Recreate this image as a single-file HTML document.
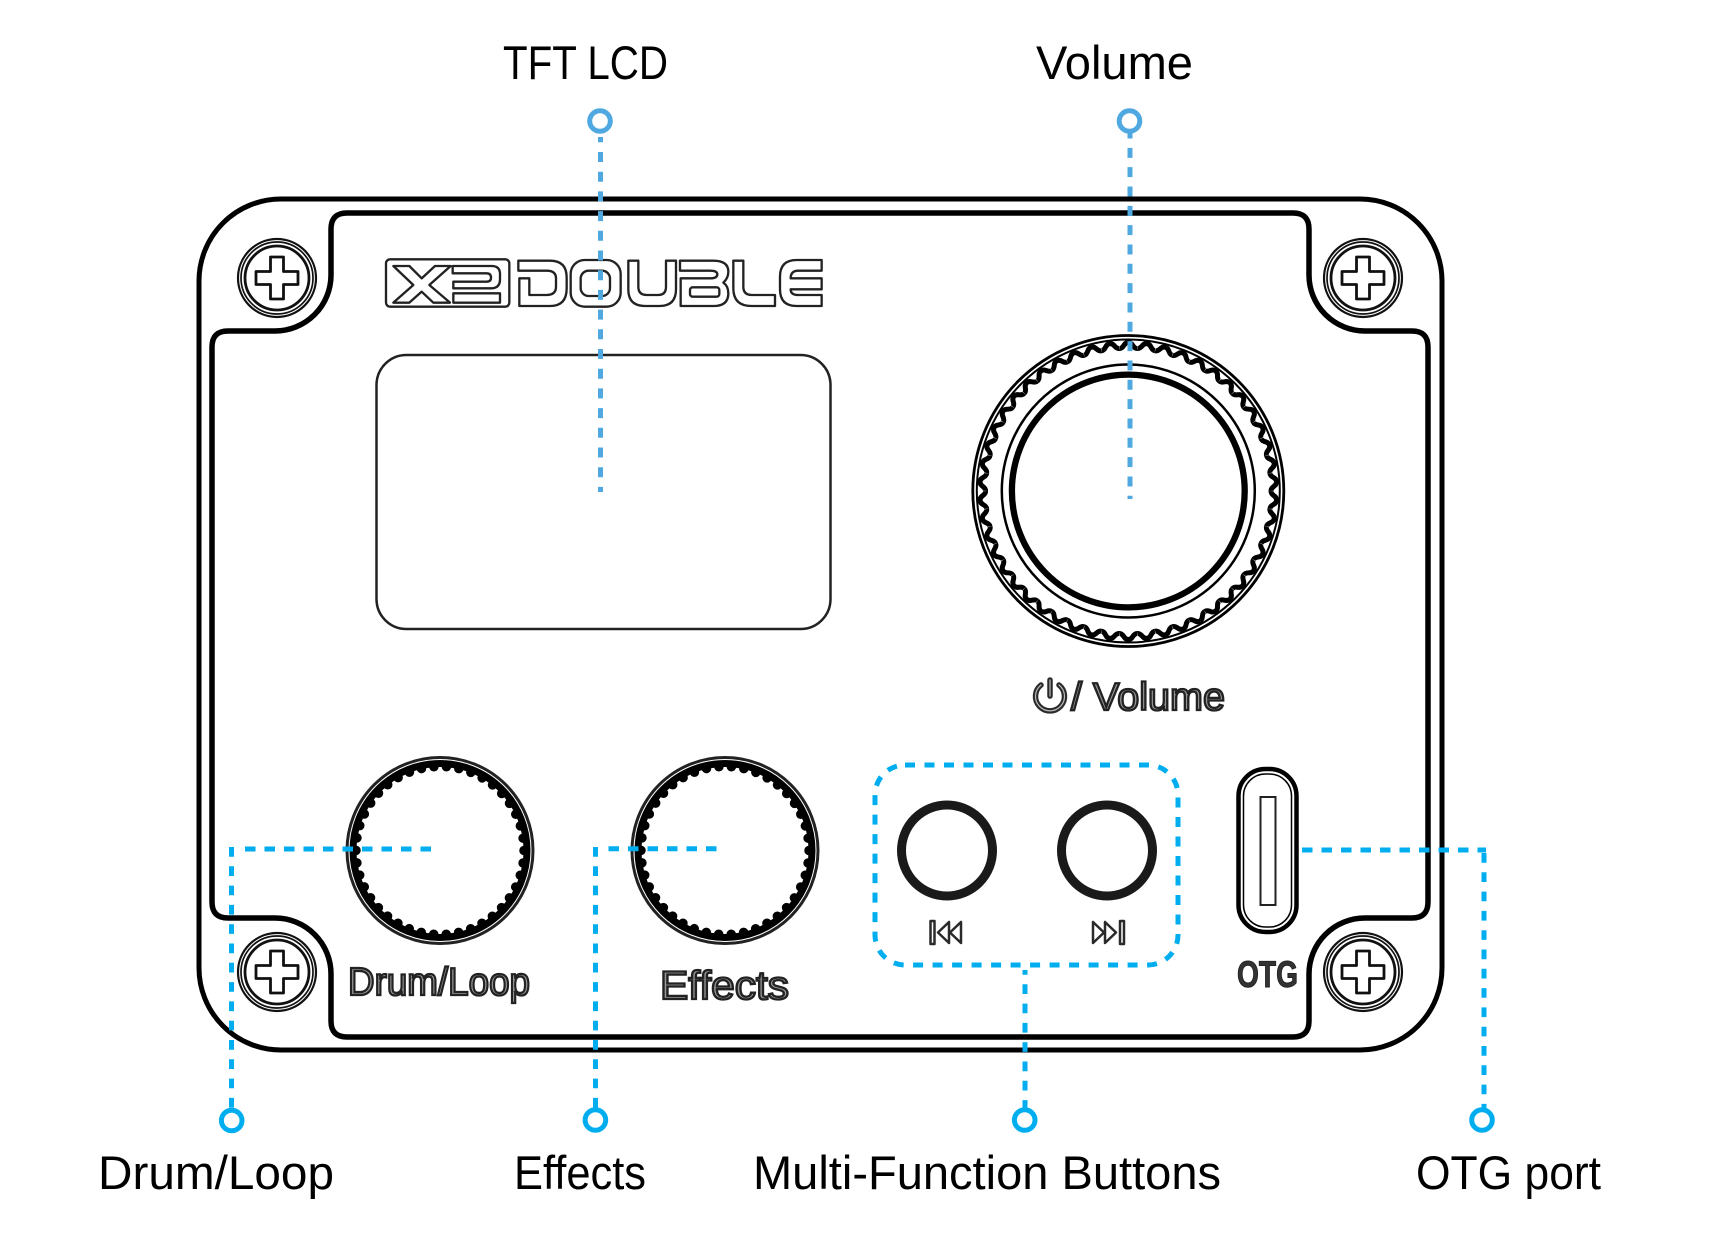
<!DOCTYPE html>
<html>
<head>
<meta charset="utf-8">
<style>
html,body{margin:0;padding:0;background:#fff}
svg{display:block}
.lab{font-family:"Liberation Sans",sans-serif;font-size:47px;fill:#000}
.ol{font-family:"Liberation Sans",sans-serif;fill:#999;stroke:#222;stroke-width:2.300px}
</style>
</head>
<body>
<svg xmlns="http://www.w3.org/2000/svg" width="1710" height="1244" viewBox="0 0 1710 1244">
<defs>
<g id="screw" fill="none" stroke="#111">
<circle r="39" stroke-width="2.200"/>
<circle r="36" stroke-width="1.700"/>
<circle r="32" stroke-width="2.800"/>
<path d="M-6.500 -21H6.500V-6.500H21V6.500H6.500V21H-6.500V6.500H-21V-6.500H-6.500Z" stroke-width="2.800" stroke-linejoin="round"/>
</g>
<path id="t" d="M-8.850 -142.500C-4.200 -142.500 -5 -148.500 0 -148.500C5 -148.500 4.200 -142.500 8.850 -142.500"/>
<g id="t5">
<use href="#t"/><use href="#t" transform="rotate(7.2)"/><use href="#t" transform="rotate(14.4)"/><use href="#t" transform="rotate(21.6)"/><use href="#t" transform="rotate(28.8)"/>
</g>
<g id="small" fill="none">
<circle r="93" stroke="#222" stroke-width="3"/>
<circle r="87" stroke="#000" stroke-width="7"/>
<circle r="84" stroke="#000" stroke-width="9.500" stroke-linecap="round" stroke-dasharray="0 12.566"/>
</g>
</defs>

<!-- enclosure -->
<rect x="199" y="199" width="1243" height="851" rx="82" fill="none" stroke="#000" stroke-width="5"/>
<path d="M347 213H1293Q1309 213 1309 229V275A56 56 0 0 0 1365 331H1412Q1428 331 1428 347V902Q1428 918 1412 918H1365A56 56 0 0 0 1309 974V1021Q1309 1037 1293 1037H347Q331 1037 331 1021V974A56 56 0 0 0 275 918H228Q212 918 212 902V347Q212 331 228 331H275A56 56 0 0 0 331 275V229Q331 213 347 213Z" fill="none" stroke="#000" stroke-width="5.500"/>

<use href="#screw" x="277" y="278"/>
<use href="#screw" x="1363" y="278"/>
<use href="#screw" x="277" y="972"/>
<use href="#screw" x="1363" y="972"/>

<!-- logo -->
<g transform="translate(380 250) scale(.33333)" fill="none" stroke="#222" stroke-width="7" stroke-linejoin="round">
<rect x="18" y="28" width="370" height="142" rx="12"/>
<path d="M40 48H88L125 85L165 48H212L148 105L210 158H160L125 125L88 158H40L100 105Z"/>
<path d="M218 48H335Q360 48 360 72V88Q360 115 332 115H220V95H320Q333 95 333 83Q333 70 320 70H218Z"/>
<rect x="220" y="130" width="140" height="28"/>
<path d="M415 32H510Q560 32 560 82V115Q560 168 510 168H418V85H448V135H500Q528 135 528 110V85Q528 62 500 62H415Z"/>
<rect x="572" y="30" width="150" height="140" rx="42"/>
<rect x="602" y="62" width="88" height="76" rx="24"/>
<path d="M745 32H775V110Q775 135 800 135H835Q858 135 858 110V32H888V118Q888 168 838 168H795Q745 168 745 118Z"/>
<path d="M900 32H1000Q1045 32 1045 65Q1045 85 1030 98Q1045 108 1045 130Q1045 168 1000 168H902V85H990Q1012 85 1012 73Q1012 62 990 62H900Z"/>
<rect x="930" y="112" width="88" height="28" rx="8"/>
<path d="M1060 32H1090V110Q1090 135 1115 135H1185V168H1115Q1060 168 1060 115Z"/>
<path d="M1325 30H1250Q1200 30 1200 80V118Q1200 168 1250 168H1325V135H1255Q1232 135 1232 118H1325V85H1232Q1232 62 1255 62H1325Z"/>
</g>

<!-- LCD -->
<rect x="376.500" y="355" width="454" height="274" rx="30" fill="none" stroke="#222" stroke-width="2.500"/>

<!-- volume knob -->
<g transform="translate(1128.300 491)" fill="none" stroke="#000">
<circle r="155.500" stroke-width="2.800"/>
<circle r="151.500" stroke-width="2"/>
<g stroke-width="5">
<use href="#t5"/><use href="#t5" transform="rotate(36)"/><use href="#t5" transform="rotate(72)"/><use href="#t5" transform="rotate(108)"/><use href="#t5" transform="rotate(144)"/><use href="#t5" transform="rotate(180)"/><use href="#t5" transform="rotate(216)"/><use href="#t5" transform="rotate(252)"/><use href="#t5" transform="rotate(288)"/><use href="#t5" transform="rotate(324)"/>
</g>
<circle r="126.500" stroke-width="2.500"/>
<circle r="116.400" stroke-width="6.300"/>
</g>

<!-- power / Volume -->
<g fill="none" stroke-linecap="round">
<path d="M1041 685A14.500 14.500 0 1 0 1059 685" stroke="#2a2a2a" stroke-width="5.500"/>
<path d="M1050 680V696" stroke="#2a2a2a" stroke-width="5.500"/>
<path d="M1041 685A14.500 14.500 0 1 0 1059 685" stroke="#bbb" stroke-width="1.200"/>
<path d="M1050 680V696" stroke="#bbb" stroke-width="1.200"/>
</g>
<text class="ol" x="1071" y="710" font-size="39" textLength="154" lengthAdjust="spacingAndGlyphs">/ Volume</text>

<!-- small knobs -->
<use href="#small" x="440" y="850.500"/>
<use href="#small" x="725" y="850.500"/>
<text class="ol" x="348" y="995" font-size="39" textLength="182" lengthAdjust="spacingAndGlyphs">Drum/Loop</text>
<text class="ol" x="660" y="999" font-size="40" textLength="129" lengthAdjust="spacingAndGlyphs">Effects</text>

<!-- buttons -->
<circle cx="947" cy="850.500" r="45.500" fill="none" stroke="#1a1a1a" stroke-width="9"/>
<circle cx="1107" cy="850.500" r="45.500" fill="none" stroke="#1a1a1a" stroke-width="9"/>
<g fill="none" stroke="#2a2a2a" stroke-width="2.500" stroke-linejoin="round">
<rect x="930.500" y="921" width="4" height="23"/>
<path d="M949 922V943L938 932.500Z"/>
<path d="M961 922V943L950 932.500Z"/>
<rect x="1120" y="921" width="4" height="23"/>
<path d="M1093 922V943L1104 932.500Z"/>
<path d="M1105 922V943L1116 932.500Z"/>
</g>

<!-- OTG -->
<g fill="none" stroke="#000">
<rect x="1238.500" y="769" width="58" height="163" rx="27" stroke-width="4.500"/>
<rect x="1243.500" y="774" width="48" height="153" rx="22" stroke-width="1.500"/>
<rect x="1260.500" y="797" width="15" height="108" stroke-width="2" stroke="#222"/>
</g>
<text x="1237" y="987" font-family="'Liberation Sans',sans-serif" font-weight="bold" font-size="37" fill="#333" stroke="#222" stroke-width="1" textLength="61" lengthAdjust="spacingAndGlyphs">OTG</text>

<!-- callouts top -->
<g fill="none" stroke="#4fa9e0" stroke-width="5">
<circle cx="600" cy="121" r="10.300"/>
<circle cx="1129.500" cy="121" r="10.300"/>
<path d="M600.500 137V492" stroke-dasharray="10 9.700" stroke-dashoffset="4.700"/>
<path d="M1130 133V499" stroke-dasharray="10 9.330" stroke-dashoffset="4.500"/>
</g>

<!-- callouts bottom -->
<g fill="none" stroke="#00aeef" stroke-width="5">
<circle cx="231.700" cy="1120.500" r="10.300"/>
<circle cx="595.400" cy="1120" r="10.300"/>
<circle cx="1024.700" cy="1120" r="10.300"/>
<circle cx="1482" cy="1120" r="10.300"/>
<path d="M245 849H431" stroke-dasharray="10.500 9"/>
<path d="M231.500 847V1110" stroke-dasharray="9.700 9.600"/>
<path d="M608.500 848.700H717" stroke-dasharray="10.500 9"/>
<path d="M595.500 847V1110" stroke-dasharray="9.700 9.600"/>
<path d="M1302 850H1486" stroke-dasharray="10.500 9"/>
<path d="M1484 853V1108" stroke-dasharray="9.700 9.600"/>
<path d="M1025 970V1109" stroke-dasharray="9.700 9.600" stroke-dashoffset="5"/>
<rect x="875" y="765" width="303" height="200" rx="30" stroke-dasharray="10 9.500"/>
</g>

<!-- labels -->
<text class="lab" x="503" y="79" textLength="165" lengthAdjust="spacingAndGlyphs">TFT LCD</text>
<text class="lab" x="1036" y="79" textLength="157" lengthAdjust="spacingAndGlyphs">Volume</text>
<text class="lab" x="98" y="1189" textLength="236" lengthAdjust="spacingAndGlyphs">Drum/Loop</text>
<text class="lab" x="514" y="1189" textLength="132" lengthAdjust="spacingAndGlyphs">Effects</text>
<text class="lab" x="753" y="1189" textLength="468" lengthAdjust="spacingAndGlyphs">Multi-Function Buttons</text>
<text class="lab" x="1416" y="1189" textLength="185" lengthAdjust="spacingAndGlyphs">OTG port</text>
</svg>
</body>
</html>
